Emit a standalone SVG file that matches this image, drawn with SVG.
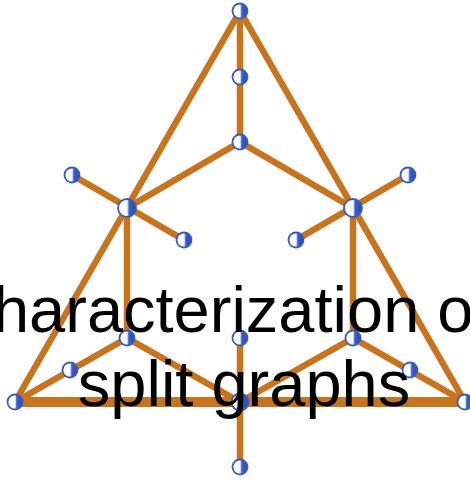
<svg xmlns="http://www.w3.org/2000/svg" width="470" height="482" viewBox="0 0 470 482">
<defs>
<linearGradient id="ng" x1="0" y1="0" x2="1" y2="0">
<stop offset="0" stop-color="#ffffff"/>
<stop offset="0.5" stop-color="#ffffff"/>
<stop offset="0.62" stop-color="#3a60c8"/>
<stop offset="1" stop-color="#2448b0"/>
</linearGradient>
</defs>
<style>
.e{stroke:#c8741f;stroke-width:6.5;stroke-linecap:round;fill:none}
.eb{stroke-width:10}
.n{fill:url(#ng);stroke:#3a5cc0;stroke-width:1.8}
.t{font-family:"Liberation Sans",Arial,sans-serif;font-size:65px;fill:#000;text-anchor:middle}
</style>
<rect width="470" height="482" fill="#fff"/>
<g id="edges">
<line class="e" x1="240" y1="11" x2="15" y2="402"/>
<line class="e" x1="240" y1="11" x2="465" y2="402"/>
<line class="e eb" x1="15" y1="402" x2="465" y2="402"/>
<line class="e" x1="240" y1="11" x2="240" y2="142"/>
<line class="e" x1="240" y1="142" x2="127" y2="208"/>
<line class="e" x1="240" y1="142" x2="353" y2="208"/>
<line class="e" x1="72" y1="175" x2="184" y2="240"/>
<line class="e" x1="408" y1="175" x2="296" y2="240"/>
<line class="e" x1="127" y1="208" x2="127" y2="338"/>
<line class="e" x1="353" y1="208" x2="353" y2="338"/>
<line class="e" x1="127" y1="338" x2="15" y2="402"/>
<line class="e" x1="127" y1="338" x2="240" y2="402"/>
<line class="e" x1="353" y1="338" x2="465" y2="402"/>
<line class="e" x1="353" y1="338" x2="240" y2="402"/>
<line class="e" x1="240" y1="338" x2="240" y2="467"/>
</g>
<g id="n1"><circle class="n" cx="240" cy="11" r="7.5"/></g>
<g id="n2"><circle class="n" cx="240" cy="77" r="7.5"/></g>
<g id="n3"><circle class="n" cx="240" cy="142" r="7.5"/></g>
<g id="n4"><circle class="n" cx="127" cy="208" r="9"/></g>
<g id="n5"><circle class="n" cx="353" cy="208" r="9"/></g>
<g id="n6"><circle class="n" cx="72" cy="175" r="7.5"/></g>
<g id="n7"><circle class="n" cx="184" cy="240" r="7.5"/></g>
<g id="n8"><circle class="n" cx="408" cy="175" r="7.5"/></g>
<g id="n9"><circle class="n" cx="296" cy="240" r="7.5"/></g>
<g id="n10"><circle class="n" cx="127" cy="338" r="7.5"/></g>
<g id="n11"><circle class="n" cx="70" cy="370" r="7.5"/></g>
<g id="n12"><circle class="n" cx="15" cy="402" r="7.5"/></g>
<g id="n13"><circle class="n" cx="240" cy="338" r="7.5"/></g>
<g id="n14"><circle class="n" cx="240" cy="402" r="8.5"/></g>
<g id="n15"><circle class="n" cx="240" cy="467" r="7.5"/></g>
<g id="n16"><circle class="n" cx="353" cy="338" r="7.5"/></g>
<g id="n17"><circle class="n" cx="410" cy="370" r="7.5"/></g>
<g id="n18"><circle class="n" cx="465" cy="402" r="7.5"/></g>
<g id="label">
<text class="t" x="226" y="332">characterization of</text>
<text class="t" x="244" y="406">split graphs</text>
</g>
</svg>
